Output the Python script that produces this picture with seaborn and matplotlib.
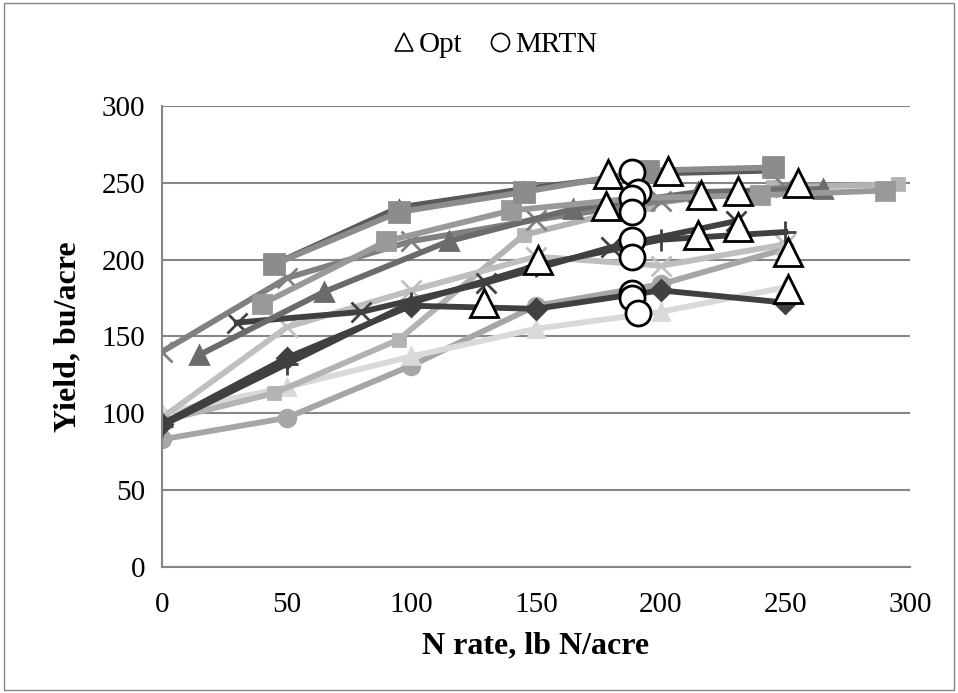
import pandas as pd
import matplotlib
matplotlib.use("Agg")
import matplotlib.pyplot as plt
import seaborn as sns
from matplotlib.lines import Line2D
from matplotlib.patches import Rectangle

# yield response curves, one per site (N rate, yield)
s1_x = [0, 50, 100, 150, 200, 250]
s1_y = [93, 136, 170, 168, 180, 172]
s2_x = [45, 95, 145, 195, 245]
s2_y = [197, 231, 244, 258, 260]
s3_x = [45, 95, 145, 195, 245]
s3_y = [197, 234, 246, 256, 258]
s4_x = [15, 65, 115, 165, 215, 265]
s4_y = [138, 179, 212, 233, 244, 246]
s5_x = [30, 80, 130, 180, 230]
s5_y = [159, 166, 185, 208, 225]
s6_x = [0, 50, 100, 150, 200, 250]
s6_y = [140, 188, 212, 226, 238, 247]
s7_x = [0, 50, 100, 150, 200, 250]
s7_y = [97, 156, 180, 202, 196, 210]
s8_x = [0, 50, 100, 150, 200, 250]
s8_y = [83, 97, 131, 170, 184, 207]
s9_x = [0, 50, 100, 150, 200, 250]
s9_y = [100, 117, 137, 155, 166, 182]
s10_x = [0, 50, 100, 150, 200, 250]
s10_y = [92, 132, 172, 196, 213, 218]
s11_x = [0, 45, 95, 145, 195, 245, 295]
s11_y = [95, 113, 148, 216, 236, 247, 249]
s12_x = [40, 90, 140, 190, 240, 290]
s12_y = [171, 212, 232, 240, 242, 245]

# economic optimum rates and MRTN rates
opt_x = [179, 203, 178, 216, 231, 255, 151, 129, 215, 231, 251, 251]
opt_y = [256, 258, 235, 242, 245, 250, 200, 172, 216, 221, 205, 181]
mrtn_x = [188.5, 191, 188.5, 188.5, 188.5, 188.5, 188.5, 188.5, 191]
mrtn_y = [257, 244, 240, 231, 213, 202, 178, 175, 165]

series = [
    (s8_x, s8_y, "#a6a6a6", "o", 12),
    (s9_x, s9_y, "#d9d9d9", "^", 12),
    (s11_x, s11_y, "#b3b3b3", "s", 8),
    (s7_x, s7_y, "#bfbfbf", "x", 14),
    (s1_x, s1_y, "#404040", "D", 10),
    (s10_x, s10_y, "#404040", "+", 16),
    (s5_x, s5_y, "#404040", "x", 14),
    (s6_x, s6_y, "#808080", "x", 14),
    (s4_x, s4_y, "#6b6b6b", "^", 13),
    (s12_x, s12_y, "#999999", "s", 13),
    (s3_x, s3_y, "#595959", "^", 9),
    (s2_x, s2_y, "#8c8c8c", "s", 15),
]

fig = plt.figure(figsize=(9.58, 6.93), dpi=100)
ax = fig.add_axes([0.169, 0.182, 0.781, 0.665])

for xs, ys, col, mk, ms in series:
    df = pd.DataFrame({"x": xs, "y": ys})
    sns.lineplot(data=df, x="x", y="y", ax=ax, color=col, linewidth=4.2,
                 marker=mk, markersize=ms, markeredgecolor=col,
                 markeredgewidth=2, sort=False)

ax.plot(opt_x, opt_y, linestyle="none", marker="^", markersize=20,
        markerfacecolor="white", markeredgecolor="black", markeredgewidth=2, zorder=5)
ax.plot(mrtn_x, mrtn_y, linestyle="none", marker="o", markersize=18,
        markerfacecolor="white", markeredgecolor="black", markeredgewidth=2, zorder=6)

ax.set_xlim(0, 300)
ax.set_ylim(0, 300)
ax.set_xticks(range(0, 301, 50))
ax.set_yticks(range(0, 301, 50))
ax.grid(axis="y", color="#868686", linewidth=1.5)
ax.set_axisbelow(True)
for side in ["top", "right"]:
    ax.spines[side].set_visible(False)
ax.spines["left"].set_color("#868686")
ax.spines["left"].set_linewidth(1.5)
ax.spines["bottom"].set_color("#868686")
ax.spines["bottom"].set_linewidth(1.5)
ax.tick_params(length=0, labelsize=21)
ax.tick_params(axis="x", pad=18)
ax.tick_params(axis="y", pad=12)
for lab in ax.get_xticklabels() + ax.get_yticklabels():
    lab.set_family("Liberation Serif")

ax.set_xlabel("N rate, lb N/acre", fontsize=23, fontweight="bold",
              family="Liberation Serif", labelpad=10)
ax.set_ylabel("Yield, bu/acre", fontsize=23, fontweight="bold",
              family="Liberation Serif", labelpad=14)

handles = [
    Line2D([], [], linestyle="none", marker="^", markersize=13,
           markerfacecolor="white", markeredgecolor="black", markeredgewidth=1.2),
    Line2D([], [], linestyle="none", marker="o", markersize=13,
           markerfacecolor="white", markeredgecolor="black", markeredgewidth=1.2),
]
fig.legend(handles, ["Opt", "MRTN"], loc="center", bbox_to_anchor=(0.515, 0.935),
           ncol=2, frameon=False, handletextpad=0.0, columnspacing=0.8,
           handlelength=1.0, prop={"family": "Liberation Serif", "size": 21})

fig.patches.append(Rectangle((0.004, 0.004), 0.992, 0.992, transform=fig.transFigure,
                             fill=False, edgecolor="#868686", linewidth=1))

fig.savefig("out.png", dpi=100)
